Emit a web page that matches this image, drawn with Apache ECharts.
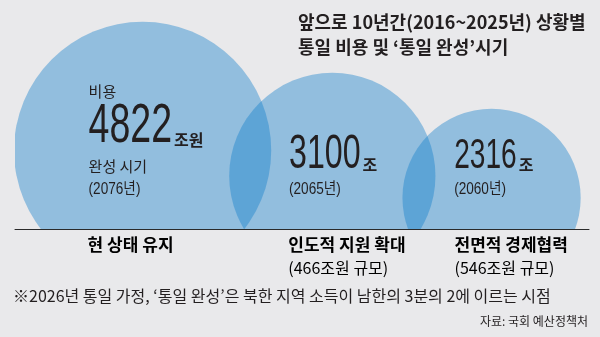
<!DOCTYPE html>
<html><head><meta charset="utf-8">
<script src="https://cdn.jsdelivr.net/npm/echarts@6/dist/echarts.min.js"></script>
<style>html,body{margin:0;padding:0;background:#e9e9eb;} #c{width:600px;height:337px;}</style>
</head><body><div id="c"></div>
<script>
// ---- data ----
const scenarios = ['현 상태 유지', '인도적 지원 확대', '전면적 경제협력'];
const scenarioScale = ['', '(466조원 규모)', '(546조원 규모)'];
const costs = [4822, 3100, 2316];            // 조원
const costUnits = ['조원', '조', '조'];
const completionYears = [2076, 2065, 2060];
const titleLines = ['앞으로 10년간(2016~2025년) 상황별', '통일 비용 및 ‘통일 완성’시기'];
const footnote = '※2026년 통일 가정, ‘통일 완성’은 북한 지역 소득이 남한의 3분의 2에 이르는 시점';
const source = '자료: 국회 예산정책처';

// ---- layout / style ----
const PX_PER_SQRT = 1.852;   // radius units per sqrt(value) -> area proportional
const FIRST_LEFT = 14;
const OVERLAP = [42, 33];
const SINK = [50, 50, 58];   // how far circles reach below the baseline
const NUM_SIZE = [56, 48, 42];
const NUM_SCALE = 0.67;
const TEXT_LEFT_FRAC = 0.29;
const YEAR_LINE = 39;        // year line centre, units above baseline
const NAME_SHIFT = [-55, -44, -37];
const INK = '#231f20';
const KR = "'Noto Sans CJK KR', sans-serif";
const LAT = "'Liberation Sans', Arial, 'Noto Sans CJK KR', sans-serif";

const radii = costs.map(v => PX_PER_SQRT * Math.sqrt(v));
const centersX = [];
radii.forEach((r, i) => {
  centersX.push(i === 0 ? FIRST_LEFT + r : centersX[i - 1] + radii[i - 1] + r - OVERLAP[i - 1]);
});
const circleData = costs.map((v, i) => [centersX[i], radii[i] - SINK[i], radii[i], v]);
const nameData = costs.map((v, i) => [centersX[i], 0]);

const mctx = document.createElement('canvas').getContext('2d');
function textW(str, font) { mctx.font = font; return mctx.measureText(str).width; }

function txt(x, y, text, font, extra) {
  return Object.assign({ type: 'text', x: x, y: y, z2: 10,
    style: { text: text, font: font, fill: INK, align: 'left', verticalAlign: 'middle' } }, extra || {});
}

function renderCircle(params, api) {
  const i = params.dataIndex;
  const c = api.coord([api.value(0), api.value(1)]);
  const r = api.size([api.value(2), 0])[0];
  const left = c[0] - r + 2 * r * TEXT_LEFT_FRAC;
  const yearY = api.coord([0, YEAR_LINE])[1];
  const numBase = i === 0 ? yearY - 43 : yearY - 18;
  const nf = NUM_SIZE[i];
  const numFont = `${nf}px ${LAT}`;
  const numStr = String(costs[i]);
  const numW = textW(numStr, numFont) * NUM_SCALE;
  const children = [
    { type: 'circle', shape: { cx: c[0], cy: c[1], r: r }, style: { fill: 'rgba(15,125,202,0.4)' } },
    txt(left, numBase - 0.36 * nf, numStr, numFont, { scaleX: NUM_SCALE }),
    txt(left + numW + 2, numBase - 7, costUnits[i], `bold 16px ${KR}`),
    txt(left, yearY, `(${completionYears[i]}년)`, `16px ${LAT}`, { scaleX: 0.85 })
  ];
  if (i === 0) {
    children.push(txt(left, numBase - 56, '비용', `15px ${KR}`));
    children.push(txt(left, yearY - 24, '완성 시기', `15px ${KR}`));
  }
  return { type: 'group', children: children };
}

function renderName(params, api) {
  const i = params.dataIndex;
  const p = api.coord([api.value(0), api.value(1)]);
  const t = scenarioScale[i] ? `{b|${scenarios[i]}}\n{r|${scenarioScale[i]}}` : `{b|${scenarios[i]}}`;
  return {
    type: 'text', x: p[0] + NAME_SHIFT[i], y: p[1] + 5,
    style: {
      text: t, align: 'left', verticalAlign: 'top',
      rich: {
        b: { fontSize: 17, fontWeight: 'bold', fontFamily: KR, color: INK, lineHeight: 22 },
        r: { fontSize: 16, fontFamily: KR, color: INK, lineHeight: 23 }
      }
    }
  };
}

const chart = echarts.init(document.getElementById('c'), null, { renderer: 'canvas' });
chart.setOption({
  backgroundColor: '#e9e9eb',
  animation: false,
  grid: { left: 15, right: 11, top: 0, bottom: 108 },
  xAxis: { type: 'value', min: 15, max: 589, splitLine: { show: false }, axisTick: { show: false }, axisLabel: { show: false },
           axisLine: { show: true, lineStyle: { color: '#2a2a2a', width: 1 } } },
  yAxis: { type: 'value', min: 0, max: 229, show: false },
  series: [
    { type: 'custom', name: 'cost', clip: true, z: 2, data: circleData, renderItem: renderCircle },
    { type: 'custom', name: 'scenario', clip: false, z: 3, data: nameData, renderItem: renderName }
  ],
  graphic: [
    { type: 'text', left: 298, top: 10, z: 10,
      style: { text: titleLines.join('\n'), font: `bold 18px ${KR}`, fill: INK, lineHeight: 25 } },
    { type: 'text', left: 13, top: 288, z: 10,
      style: { text: footnote, font: `16px ${KR}`, fill: INK } },
    { type: 'text', right: 12, top: 315, z: 10,
      style: { text: source, font: `12px ${KR}`, fill: INK } }
  ]
});
</script>
</body></html>
